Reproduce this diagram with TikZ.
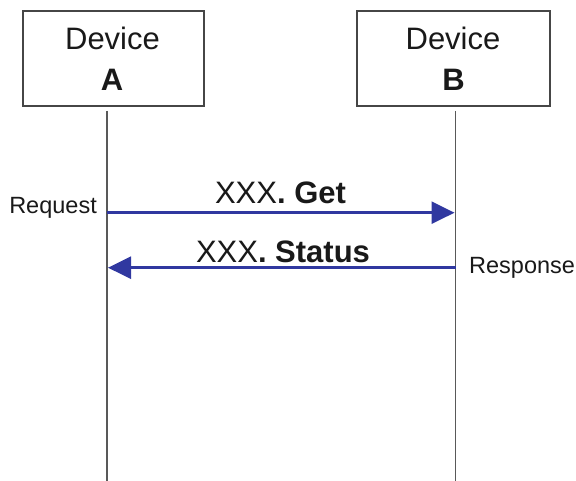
\documentclass[tikz,border=0pt]{standalone}
\usepackage{fontspec}
\setmainfont{Liberation Sans}
\usetikzlibrary{arrows.meta}
\definecolor{arrowblue}{RGB}{48,56,160}
\definecolor{boxgray}{RGB}{70,70,70}
\definecolor{txt}{RGB}{25,25,25}
\tikzset{
  devbox/.style={draw=boxgray, line width=1.6pt, minimum height=95pt, inner sep=0pt},
  lifeline/.style={draw=boxgray!90, line width=1.4pt},
  msg/.style={draw=arrowblue, line width=2.6pt, -{Triangle[length=23pt,width=22pt]}, shorten >=1pt},
  devtext/.style={font=\fontsize{31}{31}\selectfont, text=txt, anchor=base, inner sep=0pt},
  devlet/.style={font=\fontsize{31}{31}\selectfont\bfseries, text=txt, anchor=base, inner sep=0pt},
  msgtext/.style={font=\fontsize{31}{31}\selectfont, text=txt, anchor=base, inner sep=0pt},
  sidetext/.style={font=\fontsize{23.5}{23.5}\selectfont, text=txt, inner sep=0pt},
}
\begin{document}
\begin{tikzpicture}[x=1pt,y=-1pt]
\useasboundingbox (0,0) rectangle (576,481);
% boxes
\node[devbox, minimum width=181pt] (boxA) at (113.7,58.3) {};
\node[devbox, minimum width=193pt] (boxB) at (453.5,58.5) {};
\node[devtext] (devA) at (112.5,50) {Device};
\node[devlet] (letA) at (112,91) {A};
\node[devtext] (devB) at (453,50) {Device};
\node[devlet] (letB) at (453.5,91) {B};
% lifelines
\coordinate (aTop) at (107,111);
\coordinate (aBot) at (107,481);
\coordinate (bTop) at (455.5,111);
\coordinate (bBot) at (455.5,481);
\draw[lifeline] (aTop) -- (aBot);
\draw[lifeline] (bTop) -- (bBot);
% messages
\coordinate (a1) at (107,212.7);
\coordinate (b1) at (455.5,212.7);
\coordinate (a2) at (107,267.7);
\coordinate (b2) at (455.5,267.7);
\draw[msg] (a1) -- (b1);
\draw[msg] (b2) -- (a2);
\node[msgtext] (getlbl) at (280.5,204) {XXX\textbf{. Get}};
\node[msgtext] (statlbl) at (283,262.7) {XXX\textbf{. Status}};
\node[sidetext, anchor=base east] (req) at (97,213.3) {Request};
\node[sidetext, anchor=base west] (resp) at (469,274) {Response};
\end{tikzpicture}
\end{document}
